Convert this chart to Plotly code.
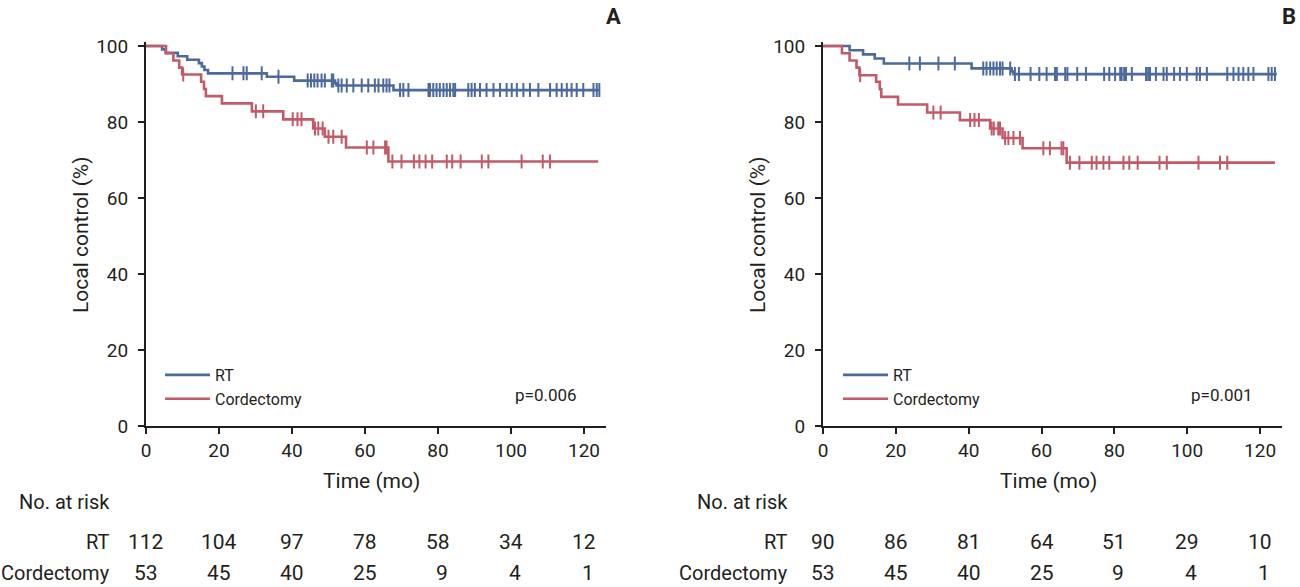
import plotly.graph_objects as go
import bisect

# ---------------- data ----------------
TICKS = [0, 20, 40, 60, 80, 100, 120]

# Panel A
A_rt_t = [0, 4.4, 5.4, 8.7, 11.3, 14.5, 15.3, 16.0, 17.0, 33.1, 40.6, 51.8, 52.2, 67.8]
A_rt_s = [100, 99.1, 98.2, 97.3, 96.4, 95.5, 94.6, 93.7, 92.8, 91.9, 90.9, 90.2, 89.6, 88.4]
A_rt_end = 124.2
A_rt_cens = [23.7, 26.7, 27.6, 31.7, 36.3, 44.3, 45.2, 46.1, 47.0, 48.1, 49.0, 50.9, 51.3,
             52.7, 53.6, 55.0, 56.8, 59.1, 60.9, 62.7, 63.7, 65.0, 65.9, 66.7, 69.6, 70.5,
             71.9, 77.4, 77.8, 78.7, 79.6, 80.5, 81.5, 82.4, 83.3, 84.2, 84.7, 88.3, 89.2,
             90.1, 91.5, 93.3, 95.2, 97.0, 98.8, 100.2, 101.6, 103.4, 105.2, 107.5, 110.7,
             112.5, 113.9, 115.3, 116.6, 118.0, 119.8, 122.6, 123.5, 124.2]

A_co_t = [0, 5.5, 7.5, 9.1, 9.9, 15.1, 15.9, 16.4, 20.8, 29.0, 37.6, 45.8, 49.0, 54.8, 66.4]
A_co_s = [100, 98.1, 96.2, 94.3, 92.5, 90.6, 88.7, 86.8, 84.9, 82.8, 80.7, 78.3, 76.1, 73.3, 69.6]
A_co_end = 123.9
A_co_cens = [10.2, 30.1, 32.1, 40.2, 41.5, 42.6, 46.3, 47.2, 48.4, 50.0, 51.3, 53.6, 60.5,
             62.3, 65.5, 65.9, 67.5, 70.0, 73.4, 74.9, 76.6, 78.4, 82.4, 83.9, 86.2, 92.0,
             93.8, 102.9, 108.7, 110.7]

# Panel B
B_rt_t = [0, 7.3, 11.0, 14.2, 16.7, 40.8, 51.8, 52.3]
B_rt_s = [100, 98.9, 97.8, 96.7, 95.4, 94.1, 93.3, 92.6]
B_rt_end = 124.6
B_rt_cens = [23.7, 26.6, 31.7, 36.2, 44.0, 44.9, 45.9, 46.8, 47.7, 48.6, 49.3, 51.4, 52.7,
             53.8, 57.0, 59.4, 61.4, 63.7, 64.2, 66.5, 67.1, 69.8, 72.2, 77.2, 78.6, 80.2,
             81.6, 82.0, 82.7, 83.2, 84.8, 88.7, 89.3, 89.8, 91.4, 93.5, 94.4, 96.4, 98.0,
             99.9, 102.6, 103.5, 105.4, 111.0, 112.7, 114.1, 115.4, 116.8, 118.2, 122.3,
             123.2, 124.1]

B_co_t = [0, 5.2, 7.3, 9.2, 10.0, 14.6, 15.6, 16.0, 20.6, 28.6, 37.6, 45.9, 49.3, 54.8, 66.9]
B_co_s = [100, 98.1, 96.2, 94.3, 92.3, 90.6, 88.6, 86.6, 84.6, 82.5, 80.5, 78.3, 75.8, 73.1, 69.3]
B_co_end = 124.1
B_co_cens = [10.2, 30.3, 32.3, 40.4, 41.6, 42.8, 46.3, 46.9, 48.1, 48.6, 50.0, 50.9, 52.3,
             54.1, 60.5, 62.3, 65.5, 66.0, 67.8, 70.4, 73.8, 75.1, 77.0, 78.6, 82.5, 84.1,
             86.4, 92.4, 94.4, 103.1, 109.0, 111.0]

A_risk_rt = [112, 104, 97, 78, 58, 34, 12]
A_risk_co = [53, 45, 40, 25, 9, 4, 1]
B_risk_rt = [90, 86, 81, 64, 51, 29, 10]
B_risk_co = [53, 45, 40, 25, 9, 4, 1]

A_p = "p=0.006"
B_p = "p=0.001"

# ---------------- style ----------------
BLUE = "#4C6A9C"
RED = "#C25B67"
FONT = "Roboto, Liberation Sans, Arial, sans-serif"
TXT = "#231F20"
W, H = 1300, 587


def step_at(ts, ss, x):
    i = bisect.bisect_right(ts, x) - 1
    return ss[max(i, 0)]


fig = go.Figure()

panels = [
    dict(xa="x", ya="y", leg="legend",
         rt=(A_rt_t, A_rt_s, A_rt_end, A_rt_cens), co=(A_co_t, A_co_s, A_co_end, A_co_cens)),
    dict(xa="x2", ya="y2", leg="legend2",
         rt=(B_rt_t, B_rt_s, B_rt_end, B_rt_cens), co=(B_co_t, B_co_s, B_co_end, B_co_cens)),
]

for p in panels:
    for key, name, col in (("rt", "RT", BLUE), ("co", "Cordectomy", RED)):
        ts, ss, end, cens = p[key]
        fig.add_trace(go.Scatter(
            x=ts + [end], y=ss + [ss[-1]], mode="lines", line=dict(color=col, width=2.6, shape="hv"),
            name=name, xaxis=p["xa"], yaxis=p["ya"], legend=p["leg"], showlegend=True,
            hoverinfo="skip"))
        fig.add_trace(go.Scatter(
            x=cens, y=[step_at(ts, ss, c) for c in cens], mode="markers",
            marker=dict(symbol="line-ns-open", size=10, color=col, line=dict(color=col, width=2)),
            xaxis=p["xa"], yaxis=p["ya"], showlegend=False, hoverinfo="skip"))

# ---------------- layout ----------------
XPX = 3.65
YB, YT = 0.27428, 0.92811
A_dom = [146 / W, (146 + 126 * XPX) / W]
B_dom = [823 / W, (823 + 126 * 3.642) / W]

axis_common = dict(showline=True, linecolor="#231F20", linewidth=2, ticks="outside",
                   ticklen=6, tickwidth=2, tickcolor="#231F20", showgrid=False, zeroline=False,
                   automargin=False, tickfont=dict(family=FONT, size=19, color=TXT))

leg_common = dict(xanchor="left", yanchor="top", bgcolor="rgba(0,0,0,0)",
                  font=dict(family=FONT, size=16, color=TXT), tracegroupgap=0, itemwidth=45)

fig.update_layout(
    width=W, height=H, margin=dict(l=0, r=0, t=0, b=0, autoexpand=False),
    paper_bgcolor="white", plot_bgcolor="white",
    xaxis=dict(domain=A_dom, range=[0, 126], tickvals=TICKS, anchor="y", **axis_common),
    yaxis=dict(domain=[YB, YT], range=[0, 101], tickvals=[0, 20, 40, 60, 80, 100], anchor="x",
               ticklabelstandoff=6, **axis_common),
    xaxis2=dict(domain=B_dom, range=[0, 126], tickvals=TICKS, anchor="y2", **axis_common),
    yaxis2=dict(domain=[YB, YT], range=[0, 101], tickvals=[0, 20, 40, 60, 80, 100], anchor="x2",
                ticklabelstandoff=6, **axis_common),
    legend=dict(x=160 / W, y=1 - 358 / H, **leg_common),
    legend2=dict(x=838 / W, y=1 - 358 / H, **leg_common),
)

ann = []


def txt(x, y, s, xref="paper", yref="paper", xanchor="center", yanchor="middle", size=21,
        bold=False, angle=0, xshift=0):
    ann.append(dict(x=x, y=y, xref=xref, yref=yref, text=(f"<b>{s}</b>" if bold else s),
                    showarrow=False, xanchor=xanchor, yanchor=yanchor, textangle=angle,
                    xshift=xshift, font=dict(family=FONT, size=size, color=TXT)))


for xa, ylab_x, xtitle_x, lab_right, risk_rt, risk_co, pval, pval_x, letter, letter_x in (
        ("x", 81, 371, 112, A_risk_rt, A_risk_co, A_p, 579, "A", 623),
        ("x2", 758, 1048, 790, B_risk_rt, B_risk_co, B_p, 1255, "B", 1298)):
    txt(ylab_x / W, 1 - 235 / H, "Local control (%)", angle=-90)
    txt(xtitle_x / W, 1 - 481 / H, "Time (mo)")
    txt(lab_right / W, 1 - 502 / H, "No. at risk", xanchor="right", size=20)
    txt(lab_right / W, 1 - 542 / H, "RT", xanchor="right", size=20)
    txt(lab_right / W, 1 - 573 / H, "Cordectomy", xanchor="right", size=20)
    for t, v in zip(TICKS, risk_rt):
        txt(t, 1 - 542 / H, str(v), xref=xa, xshift=(4 if v < 10 else 0))
    for t, v in zip(TICKS, risk_co):
        txt(t, 1 - 573 / H, str(v), xref=xa, xshift=(4 if v < 10 else 0))
    txt(pval_x / W, 1 - 395 / H, pval, xanchor="right", size=17)
    txt(letter_x / W, 1 - 16 / H, letter, xanchor="right", size=22, bold=True)

fig.update_layout(annotations=ann)
fig.write_html("out.html", config={"displayModeBar": False},
               post_script="document.body.style.margin='0';document.body.style.overflow='hidden';")
